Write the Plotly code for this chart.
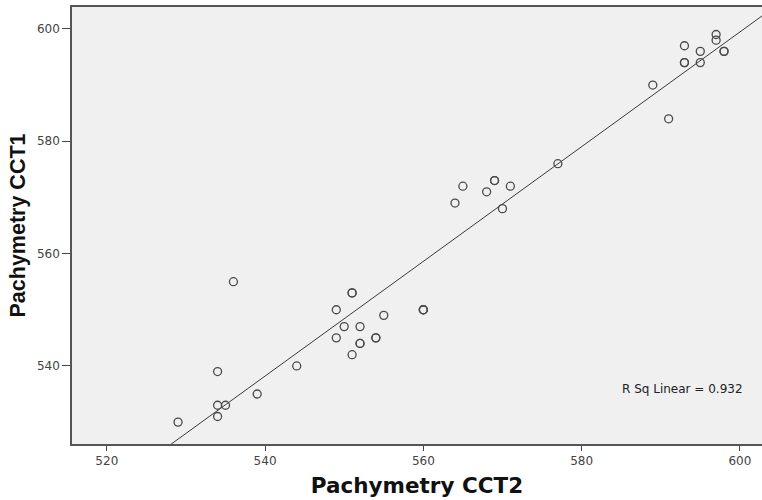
import numpy as np
import plotly.graph_objects as go

# Data (Pachymetry CCT2 vs CCT1)
cct2 = [529, 534, 534, 535, 534, 539, 536, 544, 549, 549, 550, 551, 551, 551, 552, 552, 552,
        554, 554, 555, 560, 560, 560, 564, 565, 568, 569, 569, 571, 570, 577, 589, 591, 593,
        593, 593, 595, 595, 597, 597, 598, 598]
cct1 = [530, 531, 533, 533, 539, 535, 555, 540, 550, 545, 547, 553, 553, 542, 547, 544, 544,
        545, 545, 549, 550, 550, 550, 569, 572, 571, 573, 573, 572, 568, 576, 590, 584, 597,
        594, 594, 596, 594, 599, 598, 596, 596]

x_ticks = [520, 540, 560, 580, 600]
y_ticks = [540, 560, 580, 600]
x_range = [515.6, 602.8]
y_range = [526.1, 603.9]
r2_label = "R Sq Linear = 0.932"

slope, intercept = np.polyfit(cct2, cct1, 1)
line_x = np.array(x_range)
line_y = slope * line_x + intercept

fig = go.Figure()
fig.add_trace(go.Scatter(
    x=line_x, y=line_y, mode="lines",
    line=dict(color="#3a3a3a", width=1), hoverinfo="skip", showlegend=False))
fig.add_trace(go.Scatter(
    x=cct2, y=cct1, mode="markers",
    marker=dict(symbol="circle-open", size=8, color="#4a4a4a", line=dict(width=1.3, color="#4a4a4a")),
    showlegend=False))

fig.add_annotation(x=592.7, y=535.9, text=r2_label, showarrow=False,
                   font=dict(family="DejaVu Sans", size=12, color="#222222"))

axis_common = dict(showgrid=False, zeroline=False, ticks="outside",
                   tickcolor="#444444", tickwidth=1, showline=True, linecolor="#555555",
                   linewidth=1.5,
                   tickfont=dict(family="DejaVu Sans", size=12, color="#444444"))

fig.update_xaxes(range=x_range, tickvals=x_ticks, ticklen=5, mirror=True,
                 title=dict(text="<b>Pachymetry CCT2</b>", standoff=11,
                            font=dict(family="DejaVu Sans", size=21.5, color="#111111")),
                 **axis_common)
fig.update_yaxes(range=y_range, tickvals=y_ticks, ticklen=8, mirror=False,
                 title=dict(text="<b>Pachymetry CCT1</b>", standoff=5,
                            font=dict(family="Liberation Sans, Arial", size=21.5, color="#111111")),
                 **axis_common)

fig.update_layout(width=762, height=500, margin=dict(l=72, r=0, t=7, b=56),
                  plot_bgcolor="#f0f0f0", paper_bgcolor="white")

fig.write_html("out.html", config={"displayModeBar": False},
               post_script="document.body.style.margin='0';")
